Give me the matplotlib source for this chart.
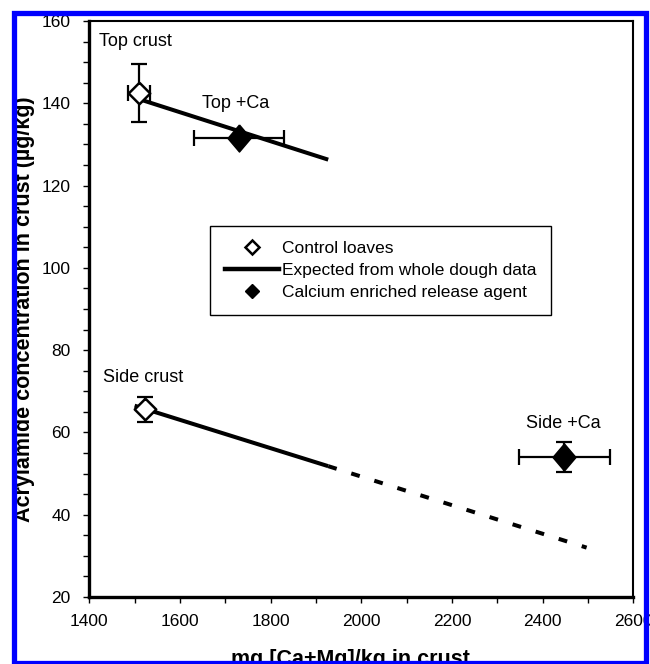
import matplotlib
matplotlib.use('Agg')
import matplotlib.pyplot as plt
from matplotlib.lines import Line2D
from matplotlib.patches import Rectangle
from matplotlib.ticker import MultipleLocator

plt.rcParams['font.family'] = ['Liberation Sans', 'DejaVu Sans']

# Panes de control (corteza superior, corteza lateral)
control_x = [1510, 1523]
control_y = [142.5, 65.6]
control_xerr = [25, 0]
control_yerr = [7, 3]

# Con agente desmoldeante enriquecido en calcio
calcio_x = [1730, 2448]
calcio_y = [131.5, 54.0]
calcio_xerr = [100, 100]
calcio_yerr = [0, 3.7]

# Lineas esperadas a partir de la masa completa
sup_x = [1510, 1927]
sup_y = [141.0, 126.3]
lat_x = [1500, 1927]
lat_y = [66.5, 51.8]
lat_ext_x = [1927, 2497]
lat_ext_y = [51.8, 32.0]

etiquetas = ['Top crust', 'Top +Ca', 'Side crust', 'Side +Ca']
etiq_x = [1422, 1649, 1431, 2364]
etiq_y = [155, 140, 73.3, 62.1]

fig = plt.figure(figsize=(6.5, 6.64), dpi=100)
ax = fig.add_axes([89.3 / 650, 1 - 597 / 664, 544 / 650, 576 / 664])

# rombos: el abierto es simetrico, el relleno un poco alargado
rombo_abierto = [(0, 1), (1, 0), (0, -1), (-1, 0), (0, 1)]
rombo_lleno = [(0, 1), (0.85, 0), (0, -1), (-0.85, 0), (0, 1)]

ax.plot(sup_x, sup_y, color='black', lw=2.9, solid_capstyle='butt', zorder=2)
ax.plot(lat_x, lat_y, color='black', lw=2.9, solid_capstyle='butt', zorder=2)
ax.plot(lat_ext_x, lat_ext_y, color='black', lw=2.9, dashes=(2.2, 3.8), zorder=2)

ax.errorbar(control_x, control_y, xerr=control_xerr, yerr=control_yerr, fmt='none',
            ecolor='black', elinewidth=1.6, capsize=6, capthick=1.6, zorder=3)
ax.plot(control_x, control_y, ls='none', marker=rombo_abierto, ms=15.5, mfc='white',
        mec='black', mew=1.8, zorder=4)

ax.errorbar(calcio_x, calcio_y, xerr=calcio_xerr, yerr=calcio_yerr, fmt='none',
            ecolor='black', elinewidth=1.6, capsize=6, capthick=1.6, zorder=3)
ax.plot(calcio_x, calcio_y, ls='none', marker=rombo_lleno, ms=19.5, mfc='black',
        mec='black', mew=1, zorder=4)

for t, x, y in zip(etiquetas, etiq_x, etiq_y):
    ax.text(x, y, t, fontsize=13, ha='left', va='center')

ax.set_xlim(1400, 2600)
ax.set_ylim(20, 160)
ax.xaxis.set_major_locator(MultipleLocator(200))
ax.xaxis.set_minor_locator(MultipleLocator(100))
ax.yaxis.set_major_locator(MultipleLocator(20))
ax.yaxis.set_minor_locator(MultipleLocator(5))
ax.tick_params(which='both', direction='out', length=4.5, width=1, labelsize=12.5, pad=9)
ax.tick_params(axis='x', pad=8)
ax.tick_params(which='minor', labelbottom=False, labelleft=False)

for lado in ['left', 'bottom']:
    ax.spines[lado].set_linewidth(2.4)
for lado in ['top', 'right']:
    ax.spines[lado].set_linewidth(1.5)

ax.set_xlabel('mg [Ca+Mg]/kg in crust', fontsize=15.5, fontweight='bold')
ax.xaxis.set_label_coords(0.48, -0.091)
ax.xaxis.label.set_va('top')
ax.set_ylabel('Acrylamide concentration in crust (µg/kg)', fontsize=15.5, fontweight='bold')
ax.yaxis.set_label_coords(-0.1, 0.5)

handles = [
    Line2D([], [], ls='none', marker='D', ms=7, mfc='white', mec='black', mew=1.8),
    Line2D([], [], color='black', lw=3.2),
    Line2D([], [], ls='none', marker='D', ms=7, mfc='black', mec='black'),
]
nombres = ['Control loaves', 'Expected from whole dough data', 'Calcium enriched release agent']
leg = ax.legend(handles, nombres, loc='upper left', bbox_to_anchor=(0.222, 0.644),
                borderaxespad=0, fontsize=12.5, handlelength=3.1, handletextpad=0.2,
                labelspacing=0.4, borderpad=0.85, fancybox=False, framealpha=1,
                edgecolor='black')
leg.get_frame().set_linewidth(1.0)

# marco azul alrededor de la figura
fig.patches.append(Rectangle((14 / 650, 1 - 663 / 664), 632 / 650, 650 / 664,
                             transform=fig.transFigure, fill=False, edgecolor='#0000ff',
                             lw=3.8, zorder=10))

fig.savefig('out.png', dpi=100)
